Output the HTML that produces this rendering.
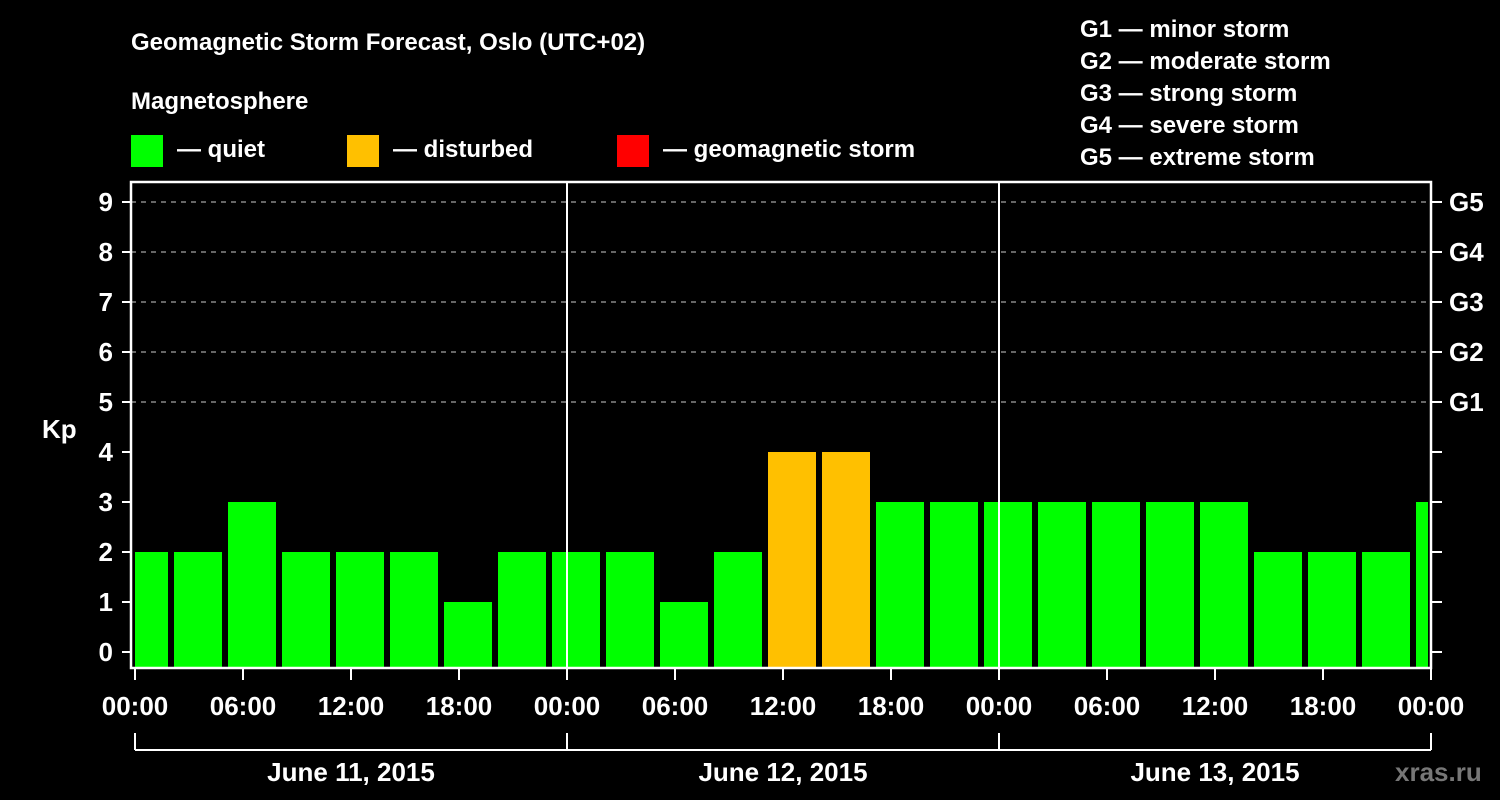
<!DOCTYPE html>
<html><head><meta charset="utf-8"><style>
body{margin:0;background:#000;}
svg{display:block;font-family:"Liberation Sans",sans-serif;font-weight:bold;}
</style></head><body>
<svg id="c" width="1500" height="800" viewBox="0 0 1500 800">
<rect width="1500" height="800" fill="#000"/>
<text x="131" y="50" fill="#fff" font-size="24">Geomagnetic Storm Forecast, Oslo (UTC+02)</text>
<text x="131" y="109" fill="#fff" font-size="24">Magnetosphere</text>
<g><rect x="131" y="135" width="32" height="32" fill="#00ff00"/><text x="177" y="157" fill="#fff" font-size="24">— quiet</text></g>
<g><rect x="347" y="135" width="32" height="32" fill="#ffc000"/><text x="393" y="157" fill="#fff" font-size="24">— disturbed</text></g>
<g><rect x="617" y="135" width="32" height="32" fill="#ff0000"/><text x="663" y="157" fill="#fff" font-size="24">— geomagnetic storm</text></g>
<g fill="#fff" font-size="24">
<text x="1080" y="37">G1 — minor storm</text>
<text x="1080" y="69">G2 — moderate storm</text>
<text x="1080" y="101">G3 — strong storm</text>
<text x="1080" y="133">G4 — severe storm</text>
<text x="1080" y="165">G5 — extreme storm</text>
</g>
<text x="42" y="438" fill="#fff" font-size="26">Kp</text>
<g id="grid"></g><g id="bars"></g><g id="axes"></g>
<text x="1395" y="781" fill="#777" font-size="26">xras.ru</text>
</svg>
<script>
const kpValues=[2,2,3,2,2,2,1,2,2,2,1,2,4,4,3,3,3,3,3,3,3,2,2,2,3];
const yTicks=[0,1,2,3,4,5,6,7,8,9];
const gLabels=["G1","G2","G3","G4","G5"];
const xLabels=["00:00","06:00","12:00","18:00","00:00","06:00","12:00","18:00","00:00","06:00","12:00","18:00","00:00"];
const dayLabels=["June 11, 2015","June 12, 2015","June 13, 2015"];
const NS="http://www.w3.org/2000/svg";
const L=131,R=1431,T=182,B=668,X0=135,DAY=432;
const y=v=>652-50*v;
const xh=h=>X0+DAY*h/24;
function mk(p,tag,a){const e=document.createElementNS(NS,tag);for(const k in a)e.setAttribute(k,a[k]);p.appendChild(e);return e;}
const grid=document.getElementById('grid'),bars=document.getElementById('bars'),axes=document.getElementById('axes');
yTicks.forEach(v=>{
 if(v>=5){const g=mk(grid,'line',{x1:L,x2:R,y1:y(v),y2:y(v),stroke:'#888','stroke-width':1.5,'stroke-dasharray':'5,5'});
 
 }
 mk(axes,'line',{x1:122,x2:L,y1:y(v),y2:y(v),stroke:'#fff','stroke-width':2});
 mk(axes,'line',{x1:R,x2:1442,y1:y(v),y2:y(v),stroke:'#fff','stroke-width':2});
 const t=mk(axes,'text',{x:113,y:y(v)+9,fill:'#fff','font-size':26,'text-anchor':'end'});t.textContent=v;
 
 
});
gLabels.forEach((g,i)=>{const t=mk(axes,'text',{x:1449,y:y(5+i)+9,fill:'#fff','font-size':26});t.textContent=g;
 
 });
mk(bars,'clipPath',{id:'cp'}).appendChild(document.createElementNS(NS,'rect'));
const cr=bars.querySelector('rect');cr.setAttribute('x',L+4);cr.setAttribute('y',T);cr.setAttribute('width',R-L-7);cr.setAttribute('height',B-T);
kpValues.forEach((v,i)=>{
 const cx=xh(i*3)+9;
 const col=v>=5?'#ff0000':v>=4?'#ffc000':'#00ff00';
 const b=mk(bars,'rect',{x:cx-24,y:y(v),width:48,height:B-y(v),fill:col,'clip-path':'url(#cp)'});
 
 
});
[1,2].forEach(d=>mk(axes,'line',{x1:X0+DAY*d,x2:X0+DAY*d,y1:T,y2:B,stroke:'#fff','stroke-width':2}));
const fr=mk(axes,'rect',{x:L,y:T,width:R-L,height:B-T,fill:'none',stroke:'#fff','stroke-width':2.5});


xLabels.forEach((s,i)=>{const x=xh(i*6);
 mk(axes,'line',{x1:x,x2:x,y1:B,y2:680,stroke:'#fff','stroke-width':2});
 const t=mk(axes,'text',{x:x,y:715,fill:'#fff','font-size':26,'text-anchor':'middle'});t.textContent=s;
 
 });
mk(axes,'line',{x1:X0,x2:R,y1:750,y2:750,stroke:'#fff','stroke-width':2});
[0,1,2,3].forEach(d=>mk(axes,'line',{x1:X0+DAY*d,x2:X0+DAY*d,y1:733,y2:750,stroke:'#fff','stroke-width':2}));
dayLabels.forEach((s,i)=>{const t=mk(axes,'text',{x:X0+DAY*(i+0.5),y:781,fill:'#fff','font-size':26,'text-anchor':'middle'});t.textContent=s;
 
 });
</script>
</body></html>
